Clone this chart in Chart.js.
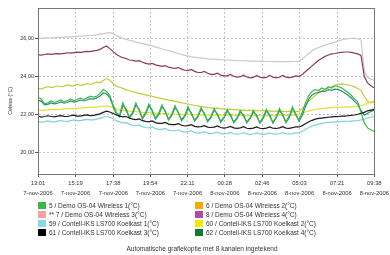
<!DOCTYPE html>
<html>
<head>
<meta charset="utf-8">
<script src="https://cdn.jsdelivr.net/npm/chart.js@4.4.1/dist/chart.umd.min.js"></script>
<style>
  body { margin: 0; background: #fff; }
  #wrap { position: relative; width: 390px; height: 255px; font-family: "Liberation Sans", Arial, sans-serif; color: #333; }
  #chart { position: absolute; left: 0; top: 0; }
  .ytitle { position: absolute; left: 10px; top: 101px; font-size: 5.2px; white-space: nowrap; transform: translate(-50%, -50%) rotate(-90deg); }
  .sw { position: absolute; width: 7.5px; height: 7px; }
  .lt { position: absolute; font-size: 6.5px; line-height: 7px; white-space: nowrap; }
  .caption { position: absolute; left: 0; width: 404px; top: 245px; text-align: center; font-size: 6.5px; line-height: 7px; }
</style>
</head>
<body>
<div id="wrap">
  <canvas id="chart" width="390" height="255"></canvas>
  <div class="ytitle">Celsius (°C)</div>
  <div id="legend"></div>
  <div class="caption">Automatische grafiekoptie met 8 kanalen ingetekend</div>
</div>
<script>
// samples every 12 minutes from 13:01 on 7-nov-2006
const stepMinutes = 12;

const tickMinutes = [0, 138, 277, 413, 550, 687, 825, 962, 1100, 1237];
const tickTimes = ['13:01', '15:19', '17:38', '19:54', '22:11', '00:28', '02:46', '05:03', '07:21', '09:38'];
const tickDates = ['7-nov-2006', '7-nov-2006', '7-nov-2006', '7-nov-2006', '7-nov-2006',
                   '8-nov-2006', '8-nov-2006', '8-nov-2006', '8-nov-2006', '8-nov-2006'];
const yTicks = [20, 22, 24, 26];

const wireless1 = [
  22.90,22.80,22.55,22.60,22.70,22.62,22.68,22.75,22.65,22.72,
  22.80,22.72,22.78,22.85,22.78,22.85,22.95,22.90,22.95,23.10,
  23.30,23.20,23.00,22.50,22.10,21.95,22.60,22.20,21.85,22.10,
  22.60,22.20,21.82,22.10,22.55,22.15,21.80,22.05,22.50,22.10,
  21.75,22.00,22.45,22.05,21.72,21.95,22.40,22.00,21.70,21.92,
  22.35,21.98,21.66,21.88,22.30,21.95,21.64,21.85,22.25,21.90,
  21.60,21.82,22.20,21.88,21.60,21.82,22.20,21.88,21.58,21.84,
  22.25,21.90,21.58,21.86,22.30,21.92,21.60,21.90,22.40,21.95,
  21.70,22.10,22.60,23.00,23.20,23.30,23.25,23.38,23.30,23.45,
  23.38,23.50,23.45,23.40,23.28,23.15,23.00,22.80,22.65,22.10,
  21.55,21.28,21.18,21.10
];
const wireless2 = [
  23.37,23.32,23.40,23.46,23.40,23.44,23.50,23.45,23.48,23.55,
  23.50,23.50,23.58,23.52,23.55,23.62,23.58,23.62,23.70,23.66,
  23.78,23.88,23.80,23.62,23.48,23.42,23.36,23.30,23.24,23.20,
  23.14,23.10,23.06,23.02,22.98,22.95,22.90,22.86,22.82,22.78,
  22.74,22.72,22.68,22.64,22.60,22.58,22.54,22.50,22.46,22.44,
  22.40,22.38,22.35,22.34,22.31,22.32,22.28,22.29,22.26,22.27,
  22.24,22.24,22.20,22.22,22.19,22.22,22.18,22.20,22.17,22.20,
  22.16,22.18,22.15,22.18,22.14,22.16,22.13,22.16,22.12,22.14,
  22.15,22.30,22.50,22.70,22.85,23.00,23.12,23.22,23.30,23.38,
  23.45,23.52,23.58,23.60,23.58,23.54,23.50,23.44,23.36,23.26,
  22.95,22.68,22.60,22.64
];
const wireless3 = [
  26.00,26.00,26.02,26.02,26.03,26.03,26.05,26.05,26.06,26.08,
  26.08,26.10,26.10,26.12,26.12,26.14,26.15,26.16,26.18,26.22,
  26.25,26.28,26.30,26.25,26.15,26.08,26.00,25.95,25.90,25.85,
  25.80,25.76,25.72,25.68,25.64,25.60,25.55,25.50,25.45,25.40,
  25.35,25.30,25.25,25.20,25.15,25.10,25.06,25.02,25.00,24.98,
  24.96,24.94,24.92,24.90,24.90,24.88,24.88,24.86,24.86,24.85,
  24.84,24.83,24.82,24.82,24.81,24.80,24.80,24.80,24.79,24.79,
  24.78,24.78,24.78,24.77,24.77,24.77,24.77,24.77,24.78,24.78,
  24.80,24.90,25.05,25.20,25.35,25.45,25.52,25.58,25.64,25.70,
  25.75,25.80,25.86,25.92,25.96,25.98,26.00,26.00,25.98,25.90,
  24.30,23.95,23.85,23.80
];
const wireless4 = [
  25.14,25.12,25.15,25.18,25.16,25.18,25.20,25.18,25.21,25.24,
  25.22,25.25,25.27,25.26,25.29,25.31,25.30,25.34,25.37,25.42,
  25.52,25.60,25.46,25.30,25.16,25.06,24.98,24.94,24.86,24.84,
  24.80,24.82,24.74,24.68,24.64,24.68,24.60,24.56,24.52,24.56,
  24.48,24.44,24.42,24.46,24.38,24.32,24.30,24.36,24.26,24.20,
  24.20,24.26,24.16,24.10,24.10,24.16,24.06,24.02,24.02,24.10,
  24.00,23.96,23.98,24.06,23.96,23.92,23.94,24.04,23.95,23.92,
  23.94,24.04,23.96,23.92,23.95,24.04,23.96,23.93,23.96,24.02,
  24.00,24.10,24.25,24.40,24.55,24.70,24.84,24.95,25.05,25.12,
  25.18,25.20,25.24,25.26,25.28,25.28,25.26,25.22,25.18,25.10,
  24.00,23.65,23.50,23.40
];
const koelkast1 = [
  21.62,21.58,21.60,21.65,21.60,21.60,21.64,21.67,21.63,21.62,
  21.66,21.70,21.66,21.66,21.70,21.73,21.70,21.70,21.74,21.78,
  21.84,21.88,21.84,21.76,21.66,21.60,21.55,21.56,21.48,21.42,
  21.40,21.44,21.34,21.30,21.28,21.33,21.24,21.20,21.20,21.25,
  21.16,21.13,21.13,21.18,21.10,21.06,21.08,21.13,21.04,21.01,
  21.03,21.08,21.00,20.98,21.00,21.06,20.98,20.96,20.98,21.04,
  20.97,20.95,20.97,21.03,20.96,20.94,20.96,21.02,20.96,20.94,
  20.96,21.02,20.96,20.95,20.97,21.03,20.97,20.96,20.98,21.02,
  21.03,21.10,21.20,21.30,21.38,21.44,21.48,21.52,21.55,21.57,
  21.58,21.60,21.60,21.62,21.62,21.63,21.64,21.65,21.66,21.70,
  21.74,21.80,21.84,21.88
];
const koelkast2 = [
  22.20,22.20,22.22,22.22,22.24,22.24,22.25,22.26,22.28,22.28,
  22.30,22.30,22.32,22.32,22.34,22.35,22.36,22.37,22.38,22.40,
  22.42,22.44,22.42,22.35,22.28,22.22,22.20,22.18,22.16,22.15,
  22.13,22.12,22.10,22.09,22.08,22.07,22.06,22.05,22.04,22.03,
  22.02,22.01,22.00,22.00,21.99,21.99,21.98,21.98,21.97,21.97,
  21.97,21.96,21.96,21.95,21.95,21.95,21.95,21.94,21.94,21.94,
  21.94,21.94,21.94,21.93,21.93,21.93,21.93,21.93,21.93,21.93,
  21.93,21.93,21.93,21.93,21.94,21.94,21.94,21.94,21.95,21.95,
  21.98,22.05,22.12,22.18,22.22,22.25,22.28,22.30,22.32,22.34,
  22.35,22.36,22.36,22.37,22.38,22.38,22.39,22.40,22.42,22.45,
  22.50,22.58,22.64,22.70
];
const koelkast3 = [
  21.90,21.85,21.88,21.92,21.88,21.86,21.90,21.93,21.89,21.88,
  21.92,21.95,21.90,21.90,21.94,21.97,21.93,21.94,21.98,22.02,
  22.10,22.16,22.12,22.04,21.96,21.90,21.86,21.88,21.80,21.74,
  21.72,21.76,21.66,21.62,21.60,21.65,21.56,21.52,21.52,21.57,
  21.48,21.45,21.45,21.50,21.42,21.38,21.40,21.45,21.36,21.33,
  21.35,21.40,21.32,21.30,21.32,21.38,21.30,21.27,21.30,21.36,
  21.28,21.26,21.28,21.34,21.26,21.24,21.27,21.33,21.26,21.24,
  21.27,21.33,21.26,21.25,21.28,21.34,21.27,21.26,21.29,21.33,
  21.33,21.40,21.50,21.60,21.68,21.74,21.78,21.80,21.82,21.84,
  21.86,21.87,21.88,21.90,21.90,21.92,21.94,21.96,22.00,22.05,
  22.10,22.18,22.22,22.26
];
const koelkast4 = [
  22.75,22.68,22.50,22.52,22.60,22.55,22.58,22.65,22.58,22.62,
  22.70,22.64,22.68,22.75,22.70,22.75,22.82,22.80,22.86,22.96,
  23.12,23.08,22.88,22.42,22.02,21.86,22.45,22.28,21.80,22.02,
  22.48,22.26,21.76,22.02,22.44,22.22,21.74,21.98,22.40,22.18,
  21.70,21.94,22.34,22.12,21.66,21.88,22.30,22.08,21.64,21.86,
  22.26,22.05,21.60,21.82,22.22,22.02,21.58,21.80,22.16,21.98,
  21.55,21.76,22.12,21.95,21.55,21.76,22.12,21.95,21.53,21.78,
  22.16,21.98,21.53,21.80,22.20,22.00,21.55,21.82,22.30,22.02,
  21.62,21.95,22.40,22.80,23.02,23.12,23.15,23.22,23.20,23.30,
  23.26,23.32,23.30,23.24,23.12,23.00,22.86,22.68,22.52,22.20,
  21.95,22.05,22.14,22.22
];

// legend order (row by row, two columns); order = drawing layer (0 on top)
const series = [
  { label: '5 / Demo OS-04 Wireless 1(°C)', values: wireless1, line: '#3fb34f', swatch: '#3cb54a', order: 1 },
  { label: '6 / Demo OS-04 Wireless 2(°C)', values: wireless2, line: '#c2ca3e', swatch: '#f2a900', order: 5 },
  { label: '** 7 / Demo OS-04 Wireless 3(°C)', values: wireless3, line: '#cfc7cb', swatch: '#f4a3a0', order: 7 },
  { label: '8 / Demo OS-04 Wireless 4(°C)', values: wireless4, line: '#8a3b5c', swatch: '#b04aa8', order: 6 },
  { label: '59 / Contell-IKS LS700 Koelkast 1(°C)', values: koelkast1, line: '#80d0dc', swatch: '#8fd4e8', order: 3 },
  { label: '60 / Contell-IKS LS700 Koelkast 2(°C)', values: koelkast2, line: '#e4df30', swatch: '#f0ea00', order: 4 },
  { label: '61 / Contell-IKS LS700 Koelkast 3(°C)', values: koelkast3, line: '#1a1a1a', swatch: '#000000', order: 0 },
  { label: '62 / Contell-IKS LS700 Koelkast 4(°C)', values: koelkast4, line: '#2f8f72', swatch: '#0e7a3a', order: 2 }
];

// html legend, 2 columns x 4 rows
const legendRows = [205, 214.3, 223.4, 232.7];
const legendCols = [38, 195];
let legendHtml = '';
series.forEach((s, i) => {
  const x = legendCols[i % 2], y = legendRows[Math.floor(i / 2)];
  legendHtml += `<div class="sw" style="left:${x}px;top:${y - 3.5}px;background:${s.swatch}"></div>`;
  legendHtml += `<div class="lt" style="left:${x + 11}px;top:${y - 3.5}px">${s.label}</div>`;
});
document.getElementById('legend').innerHTML = legendHtml;

const framePlugin = {
  id: 'frame',
  afterDraw(chart) {
    const { ctx, chartArea: a } = chart;
    ctx.save();
    ctx.strokeStyle = '#777';
    ctx.lineWidth = 1;
    ctx.strokeRect(Math.round(a.left) + 0.5, Math.round(a.top) + 0.5, Math.round(a.right - a.left), Math.round(a.bottom - a.top));
    ctx.restore();
  }
};

const tickFont = { family: '"Liberation Sans", Arial, sans-serif', size: 5.8 };

new Chart(document.getElementById('chart'), {
  type: 'line',
  data: {
    datasets: series.map(s => ({
      label: s.label,
      data: s.values.map((v, i) => ({ x: i * stepMinutes, y: v })),
      borderColor: s.line,
      borderWidth: 1.2,
      pointRadius: 0,
      tension: 0,
      fill: false,
      order: s.order
    }))
  },
  options: {
    responsive: false,
    animation: false,
    devicePixelRatio: 1,
    layout: { padding: { top: 8, right: 15, bottom: 59, left: 0 } },
    plugins: { legend: { display: false }, tooltip: { enabled: false } },
    scales: {
      x: {
        type: 'linear', min: 0, max: 1237,
        afterBuildTicks: s => { s.ticks = tickMinutes.map(v => ({ value: v })); },
        afterFit: s => { s.height = 22; },
        ticks: {
          autoSkip: false, maxRotation: 0, padding: 1, color: '#333',
          font: { ...tickFont, lineHeight: 1.75 },
          callback: (v, i) => [tickTimes[i], tickDates[i]]
        },
        grid: { color: '#c4c4c4', lineWidth: 1, tickLength: 3, tickColor: '#555' },
        border: { color: '#444', dash: [2, 2] }
      },
      y: {
        min: 18.85, max: 27.6,
        afterBuildTicks: s => { s.ticks = yTicks.map(v => ({ value: v })); },
        afterFit: s => { s.width = 38; },
        ticks: {
          padding: 1, color: '#333', font: { ...tickFont, size: 5.5 },
          callback: v => v.toFixed(2).replace('.', ',')
        },
        grid: { color: '#c4c4c4', lineWidth: 1, tickLength: 3, tickColor: '#555' },
        border: { color: '#444', dash: [2, 2] }
      }
    }
  },
  plugins: [framePlugin]
});
</script>
</body>
</html>
